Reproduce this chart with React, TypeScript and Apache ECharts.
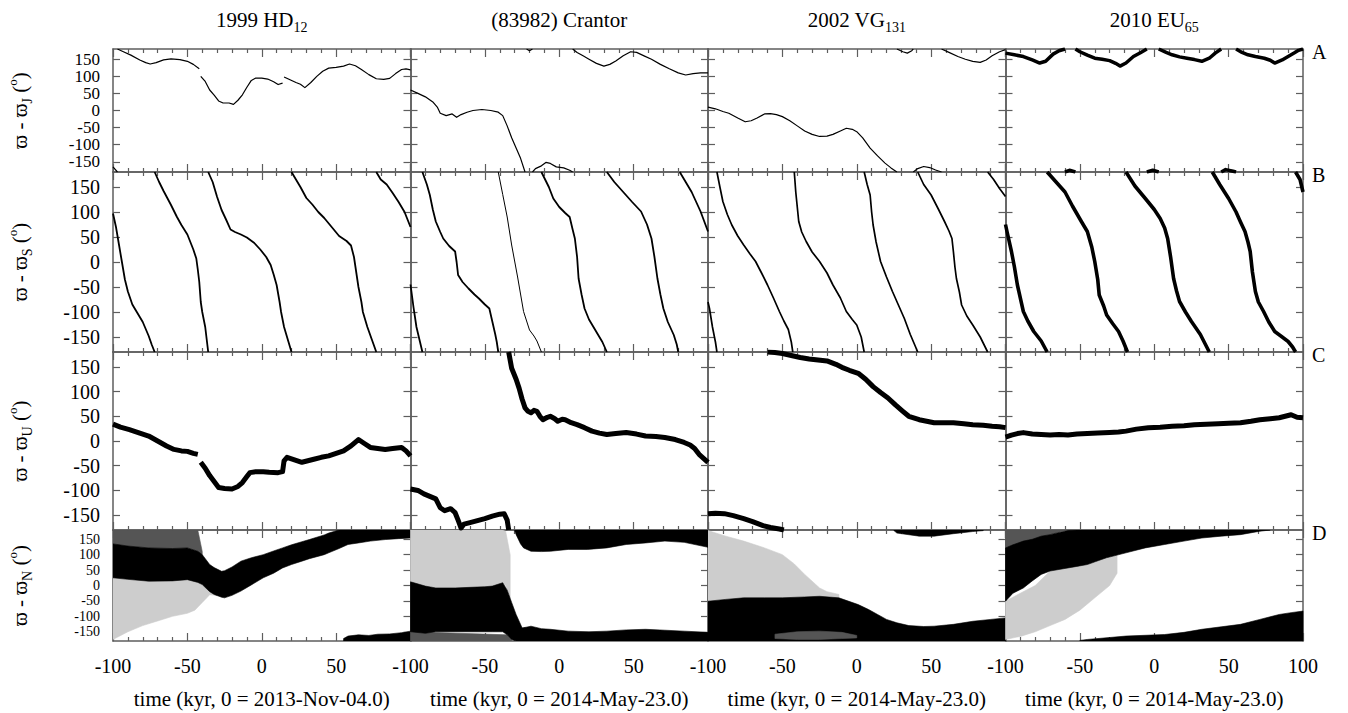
import React, { useEffect, useRef } from "react";
import * as echarts from "echarts";

// ---------- texts ----------
const OBJECT_TITLES = [
  "{n|1999 HD}{s|12}",
  "{n|(83982) Crantor}",
  "{n|2002 VG}{s|131}",
  "{n|2010 EU}{s|65}",
];
const X_TITLES = [
  "time (kyr, 0 = 2013-Nov-04.0)",
  "time (kyr, 0 = 2014-May-23.0)",
  "time (kyr, 0 = 2014-May-23.0)",
  "time (kyr, 0 = 2014-May-23.0)",
];
const Y_TITLES = [
  "{n|ϖ - ϖ}{s|J}{n| (}{p|o}{n|)}",
  "{n|ϖ - ϖ}{s|S}{n| (}{p|o}{n|)}",
  "{n|ϖ - ϖ}{s|U}{n| (}{p|o}{n|)}",
  "{n|ϖ - ϖ}{s|N}{n| (}{p|o}{n|)}",
];
const ROW_LABELS = ["A", "B", "C", "D"];
const Y_TICKS = [-150, -100, -50, 0, 50, 100, 150];
const Y_LABELS_ODD = [-150, -50, 50, 150];
const Y_LABELS_EVEN = [-100, 0, 100];

// ---------- row A: ϖ - ϖJ ----------
const A1 = [[-100,-165],[-97,-180],null,[-97,180],[-93,172],[-88,162],[-82,148],[-78,140],[-75,136],[-71,140],[-66,148],[-61,151],[-55,149],[-50,144],[-46,135],[-42,122],null,[-41,100],[-38,85],[-35,60],[-32,45],[-29,28],[-26,22],[-22,22],[-19,18],[-16,30],[-13,46],[-10,68],[-7,88],[-4,95],[0,95],[4,92],[8,84],[11,76],[14,80],null,[15,98],[19,90],[23,82],[26,77],[29,67],[33,82],[37,100],[41,115],[45,124],[50,126],[55,130],[59,136],[63,131],[67,120],[72,105],[77,93],[82,91],[86,94],[90,108],[94,120],[97,122],[100,119]];
const A2 = [[-100,60],[-95,50],[-90,40],[-85,25],[-82,10],[-80,-8],[-76,-15],[-72,-10],[-69,-20],[-66,-12],[-62,-5],[-58,0],[-52,3],[-46,0],[-41,-5],[-38,-15],[-35,-45],[-32,-80],[-29,-110],[-26,-140],[-23,-180],null,[-22,180],[-20,175],[-18,180],null,[-18,-180],[-16,-170],[-12,-162],[-9,-152],[-6,-155],[-2,-165],[3,-168],[7,-175],[9,-180],null,[9,180],[12,170],[16,160],[20,150],[25,138],[30,130],[34,135],[38,145],[43,160],[48,172],[52,170],[57,160],[62,150],[68,135],[74,122],[80,110],[85,104],[90,108],[95,110],[100,110]];
const A3 = [[-100,10],[-95,5],[-90,-3],[-86,-8],[-80,-22],[-75,-33],[-71,-30],[-67,-22],[-62,-10],[-58,-9],[-54,-12],[-50,-18],[-45,-30],[-40,-45],[-35,-60],[-30,-70],[-25,-76],[-20,-75],[-16,-70],[-11,-60],[-7,-52],[-3,-55],[0,-62],[4,-80],[9,-110],[14,-133],[19,-154],[23,-168],[27,-180],null,[27,180],[31,172],[34,168],[37,175],[38,180],null,[38,-180],[41,-170],[45,-164],[49,-167],[53,-174],[57,-180],null,[57,180],[62,170],[68,158],[73,150],[78,144],[83,141],[87,148],[91,160],[96,172],[100,178]];
const A4 = [[-100,168],[-94,163],[-88,158],[-82,148],[-77,139],[-73,144],[-68,165],[-64,175],[-60,180],null,[-60,-180],[-57,-175],[-53,-180],null,[-53,180],[-50,172],[-45,162],[-40,153],[-35,150],[-30,146],[-26,138],[-23,130],[-19,139],[-14,158],[-9,170],[-5,180],null,[-5,-180],[-1,-175],[3,-180],null,[3,180],[8,170],[12,163],[17,157],[22,153],[27,149],[32,144],[37,153],[41,168],[45,180],null,[45,-180],[48,-173],[53,-178],[55,-180],null,[55,180],[59,170],[63,163],[68,158],[74,153],[78,147],[81,139],[86,148],[90,158],[94,168],[97,176],[100,180]];

// ---------- row B: ϖ - ϖS ----------
const B1 = [[-100,97],[-98,70],[-96,35],[-94,0],[-92,-35],[-90,-59],[-87,-85],[-84,-100],[-80,-120],[-76,-148],[-74,-165],[-72,-180],null,[-72,180],[-69,160],[-66,142],[-61,114],[-57,90],[-54,74],[-50,55],[-46,25],[-44,7],[-43,-15],[-42,-40],[-41,-80],[-40,-100],[-38,-130],[-37,-155],[-36,-180],null,[-36,180],[-33,160],[-30,130],[-27,104],[-24,85],[-21,65],[-18,60],[-14,55],[-10,49],[-5,38],[-1,25],[3,10],[6,-6],[8,-25],[10,-46],[12,-80],[13,-100],[15,-130],[18,-160],[20,-180],null,[20,180],[23,165],[26,150],[30,128],[34,115],[38,100],[42,88],[47,70],[52,52],[57,42],[60,33],[62,10],[63,-10],[65,-50],[67,-80],[68,-100],[71,-130],[74,-155],[77,-180],null,[77,180],[80,165],[84,155],[88,138],[92,120],[96,100],[100,70]];
const B2 = [[-100,-45],[-98,-90],[-96,-130],[-94,-155],[-92,-180],null,[-92,180],[-89,155],[-87,134],[-85,105],[-83,81],[-80,60],[-78,47],[-74,32],[-70,21],[-69,0],[-68,-26],[-65,-40],[-61,-53],[-57,-65],[-54,-73],[-50,-85],[-47,-93],[-45,-119],[-43,-145],[-42,-160],[-41,-180],null,[-12,180],[-7,150],[-4,127],[0,110],[4,98],[7,90],[9,65],[10.5,47],[12,10],[13,-33],[15,-65],[17,-93],[20,-115],[25,-140],[29,-160],[32,-180],null,[32,180],[37,160],[43,140],[49,120],[55,101],[59,75],[62,47],[64,10],[66,-33],[68,-65],[70,-93],[73,-120],[77,-146],[79,-165],[80,-180],null,[81,180],[85,160],[89,140],[95,101],[100,61]];
const B2_FAST = [[-41,180],[-38,135],[-35,90],[-32,34],[-28,-30],[-24,-99],[-20,-136],[-17,-148],[-15,-158],[-12,-180]];
const B3 = [[-100,-80],[-99,-93],[-97,-130],[-95,-160],[-94,-180],null,[-94,180],[-92,150],[-90,121],[-87,95],[-84,74],[-80,52],[-76,34],[-72,17],[-68,1],[-64,-22],[-60,-46],[-56,-72],[-52,-99],[-49,-118],[-46,-135],[-44,-160],[-43,-180],null,[-42,180],[-41,140],[-39,81],[-37,60],[-34,41],[-30,20],[-25,1],[-20,-22],[-16,-46],[-11,-72],[-7,-99],[-3,-115],[0,-126],[3,-150],[5,-180],null,[5,180],[7,155],[9,134],[10,100],[11,74],[13,40],[16,1],[20,-30],[24,-59],[28,-86],[32,-113],[36,-145],[41,-180],null,[41,180],[45,155],[50,134],[55,105],[59,81],[62,62],[64,47],[65,20],[66,-10],[67,-33],[69,-60],[70.5,-86],[74,-108],[78,-126],[83,-150],[88,-180],null,[88,180],[92,165],[96,147],[100,131]];
const B4 = [[-100,75],[-99,61],[-96,21],[-94,-10],[-92,-46],[-88,-99],[-85,-118],[-81,-139],[-76,-158],[-72,-180],null,[-72,180],[-66,160],[-60,140],[-55,112],[-49,81],[-45,61],[-42,30],[-40,1],[-38,-35],[-37,-66],[-34,-88],[-32,-106],[-28,-123],[-24,-139],[-21,-158],[-18,-180],null,[-19,180],[-13,152],[-6,127],[0,105],[4,87],[7,68],[9,47],[11,10],[13,-33],[15,-58],[17,-79],[21,-100],[25,-119],[31,-145],[37,-180],null,[39,180],[44,155],[50,127],[55,100],[58,80],[61,61],[63,40],[64.5,21],[66,-20],[68,-59],[70,-80],[73.5,-99],[77,-120],[81,-139],[86,-150],[90,-159],[93,-170],[95,-180],null,[95,180],[98,165],[100,140]];

// ---------- row C: ϖ - ϖU ----------
const C1 = [[-100,34],[-95,28],[-89,23],[-82,16],[-76,10],[-70,0],[-64,-10],[-59,-17],[-54,-20],[-50,-21],[-46,-25],[-43,-27],null,[-41,-43],[-38,-55],[-35,-70],[-32,-82],[-29,-94],[-25,-96],[-20,-97],[-16,-92],[-13,-84],[-10,-72],[-8,-64],[-4,-62],[1,-62],[5,-63],[11,-64],[14,-62],[15,-40],[17,-33],[22,-38],[27,-43],[31,-40],[35,-37],[40,-33],[45,-30],[50,-25],[55,-20],[60,-10],[65,3],[69,-5],[73,-13],[78,-15],[83,-17],[88,-15],[94,-13],[97,-20],[100,-30]];
const C2 = [[-100,-97],[-95,-100],[-91,-107],[-87,-112],[-83,-117],[-80,-135],[-77,-141],[-73,-137],[-70,-145],[-68,-160],[-66,-176],[-64,-168],[-60,-165],[-55,-161],[-50,-157],[-45,-152],[-40,-148],[-37,-147],[-35,-160],[-34,-180],null,[-34,180],[-32,147],[-29,125],[-27,107],[-25,85],[-23,67],[-21,60],[-19,57],[-17,62],[-15,60],[-13,50],[-11,43],[-8,48],[-6,50],[-3,45],[-1,40],[2,44],[4,43],[8,37],[12,33],[17,27],[22,20],[27,16],[32,13],[38,15],[45,17],[52,14],[58,10],[65,9],[71,7],[78,3],[84,-3],[88,-8],[91,-15],[94,-27],[97,-35],[100,-43]];
const C3 = [[-100,-147],[-95,-146],[-89,-147],[-83,-151],[-76,-157],[-70,-163],[-63,-171],[-58,-175],[-52,-178],[-49,-180],null,[-60,180],[-55,179],[-50,177],[-44,173],[-38,169],[-32,166],[-26,164],[-20,162],[-14,155],[-10,149],[-5,143],[1,137],[6,125],[11,110],[16,98],[21,87],[26,73],[31,60],[35,50],[42,43],[47,40],[52,37],[58,37],[65,37],[72,35],[78,33],[85,32],[91,30],[96,29],[100,27]];
const C4 = [[-100,8],[-96,12],[-92,15],[-88,17],[-82,14],[-76,13],[-70,12],[-64,13],[-58,12],[-52,14],[-45,15],[-38,16],[-30,17],[-24,18],[-19,20],[-12,24],[-4,27],[4,28],[12,30],[20,31],[27,33],[35,34],[43,35],[50,36],[58,37],[65,40],[71,43],[78,45],[84,47],[88,50],[92,53],[96,48],[100,47]];

// ---------- row D: ϖ - ϖN (point clouds as [t, low, high] bands) ----------
const D1_TOP_SPARSE = [[-100,133,180],[-90,128,180],[-76,122,180],[-60,120,180],[-50,122,180],[-43,111,180],[-40,95,110]];
const D1_BOTTOM_SPARSE = [[-100,-175,25],[-90,-150,20],[-80,-130,16],[-70,-115,14],[-60,-100,15],[-50,-90,19],[-45,-80,12],[-40,-55,3],[-35,-30,-20],[-30,-32,-34]];
const D1_DENSE = [[-100,25,135],[-90,20,128],[-76,14,122],[-60,15,120],[-50,19,122],[-43,10,111],[-40,3,100],[-35,-20,68],[-32,-29,58],[-27,-38,46],[-25,-40,48],[-20,-32,60],[-14,-18,79],[-7,2,90],[1,25,100],[8,40,112],[14,57,122],[20,68,132],[27,79,142],[32,87,149],[42,100,164],[45,106,170],[52,120,180],[58,133,180],[65,138,180],[73,144,180],[83,149,180],[92,152,180],[100,154,180]];
const D1_LOW = [[55,-180,-172],[58,-180,-164],[65,-180,-160],[72,-180,-162],[78,-180,-158],[86,-180,-157],[94,-180,-153],[100,-180,-148]];

const D2_TOP_SPARSE = [[-100,10,180],[-83,-8,180],[-70,-8,180],[-57,-8,180],[-45,-2,180],[-38,9,180],[-36,0,175],[-33,-40,100]];
const D2_BOTTOM_MID = [[-100,-180,-150],[-35,-180,-160],[-32,-180,-175]];
const D2_DENSE = [[-100,-150,12],[-90,-155,-2],[-83,-150,-8],[-70,-150,-8],[-60,-150,-6],[-50,-150,-4],[-45,-150,-2],[-38,-150,9],[-35,-160,-15],[-32,-175,-55],[-29,-180,-94],[-25,-180,-137],[-22,-180,-138]];
const D2_LOW = [[-24,-180,-137],[-19,-180,-132],[-12,-180,-140],[-6,-180,-142],[6,-180,-148],[20,-180,-150],[32,-180,-148],[45,-180,-144],[58,-180,-142],[71,-180,-145],[84,-180,-148],[100,-180,-152]];
const D2_HIGH = [[-30,178,180],[-29,165,180],[-26,135,180],[-24,122,180],[-19,111,180],[-12,110,180],[-6,111,180],[6,117,180],[19,117,180],[32,122,180],[45,133,180],[58,138,180],[71,144,180],[84,140,180],[100,124,180]];

const D3_SPARSE = [[-100,-51,178],[-88,-45,160],[-76,-40,144],[-62,-40,122],[-50,-40,100],[-42,-38,70],[-35,-36,36],[-25,-35,-8],[-20,-36,-20],[-12,-40,-29]];
const D3_DENSE = [[-100,-180,-51],[-88,-180,-45],[-76,-180,-40],[-62,-180,-40],[-50,-180,-40],[-35,-180,-37],[-25,-180,-35],[-12,-180,-40],[1,-180,-62],[8,-180,-78],[14,-180,-94],[20,-180,-110],[27,-180,-121],[35,-180,-130],[45,-180,-133],[52,-180,-132],[65,-180,-126],[78,-180,-116],[90,-180,-110],[100,-180,-105]];
const D3_THIN = [[-55,-172,-158],[-40,-175,-150],[-25,-175,-148],[-10,-172,-152],[0,-170,-162]];
const D3_HIGH = [[25,178,180],[27,170,180],[42,160,180],[52,160,180],[65,168,180],[78,175,180],[85,178,180]];

const D4_TOP_SPARSE = [[-100,122,180],[-83,144,180],[-70,165,180],[-60,178,180]];
const D4_BOTTOM_SPARSE = [[-100,-175,-51],[-90,-165,-25],[-80,-150,0],[-70,-130,47],[-60,-110,55],[-50,-80,65],[-40,-40,75],[-30,0,92],[-25,40,98]];
const D4_DENSE = [[-100,-51,122],[-95,-25,132],[-88,-8,144],[-82,15,150],[-76,36,160],[-70,47,165],[-64,52,172],[-58,57,178],[-52,62,180],[-45,68,180],[-32,90,180],[-19,106,180],[-6,122,180],[7,133,180],[20,144,180],[32,154,180],[45,160,180],[58,165,180],[71,176,180],[78,180,180]];
const D4_LOW = [[-50,-180,-178],[-45,-180,-175],[-19,-180,-164],[7,-180,-159],[20,-180,-152],[32,-180,-142],[45,-180,-134],[58,-180,-126],[71,-180,-110],[84,-180,-94],[92,-180,-88],[100,-180,-83]];

// ---------- layout / styles ----------
const FONT = '"Liberation Serif", "DejaVu Serif", "Times New Roman", serif';
const AXIS_COLOR = "#5e5e5e";
const GRID_LEFTS = [113, 410.5, 708, 1005.5];
const GRID_WIDTH = 297.5;
const GRID_TOPS = [49, 172, 352, 530];
const GRID_HEIGHTS = [123, 180, 178, 111];
const Y_LABEL_SIZES = [17, 20, 20, 14];
const SHADE = { dense: "#000000", mid: "#555555", sparse: "#cdcdcd" };

const LINE_PANELS = [
  { row: 0, col: 0, data: A1, width: 1.2 },
  { row: 0, col: 1, data: A2, width: 1.2 },
  { row: 0, col: 2, data: A3, width: 1.2 },
  { row: 0, col: 3, data: A4, width: 3.5 },
  { row: 1, col: 0, data: B1, width: 1.8 },
  { row: 1, col: 1, data: B2, width: 1.8 },
  { row: 1, col: 1, data: B2_FAST, width: 1.0 },
  { row: 1, col: 2, data: B3, width: 1.7 },
  { row: 1, col: 3, data: B4, width: 3.6 },
  { row: 2, col: 0, data: C1, width: 5 },
  { row: 2, col: 1, data: C2, width: 5 },
  { row: 2, col: 2, data: C3, width: 5 },
  { row: 2, col: 3, data: C4, width: 5 },
];

const BAND_PANELS = [
  { col: 0, rows: D1_TOP_SPARSE, shade: "mid" },
  { col: 0, rows: D1_BOTTOM_SPARSE, shade: "sparse" },
  { col: 0, rows: D1_DENSE, shade: "dense" },
  { col: 0, rows: D1_LOW, shade: "dense" },
  { col: 1, rows: D2_TOP_SPARSE, shade: "sparse" },
  { col: 1, rows: D2_BOTTOM_MID, shade: "mid" },
  { col: 1, rows: D2_DENSE, shade: "dense" },
  { col: 1, rows: D2_LOW, shade: "dense" },
  { col: 1, rows: D2_HIGH, shade: "dense" },
  { col: 2, rows: D3_SPARSE, shade: "sparse" },
  { col: 2, rows: D3_DENSE, shade: "dense" },
  { col: 2, rows: D3_THIN, shade: "mid" },
  { col: 2, rows: D3_HIGH, shade: "dense" },
  { col: 3, rows: D4_TOP_SPARSE, shade: "mid" },
  { col: 3, rows: D4_BOTTOM_SPARSE, shade: "sparse" },
  { col: 3, rows: D4_DENSE, shade: "dense" },
  { col: 3, rows: D4_LOW, shade: "dense" },
];

const RICH = {
  n: { fontSize: 21, lineHeight: 28, fontFamily: FONT, color: "#000" },
  s: { fontSize: 14, lineHeight: 14, verticalAlign: "bottom", fontFamily: FONT, color: "#000" },
  p: { fontSize: 13, lineHeight: 13, verticalAlign: "top", fontFamily: FONT, color: "#000" },
};

function toLine(arr: any[]) {
  let lastT = 0;
  return arr.map((p) => {
    if (p) {
      lastT = p[0];
      return p;
    }
    return [lastT, null];
  });
}

function buildOption() {
  const grid: any[] = [];
  const xAxis: any[] = [];
  const yAxis: any[] = [];
  const series: any[] = [];
  const xIndex: number[] = [];
  const yIndex: number[] = [];
  const line = { show: true, onZero: false, lineStyle: { color: AXIS_COLOR, width: 1.5 } };

  for (let row = 0; row < 4; row++) {
    for (let col = 0; col < 4; col++) {
      const g = row * 4 + col;
      grid.push({
        left: GRID_LEFTS[col], top: GRID_TOPS[row], width: GRID_WIDTH, height: GRID_HEIGHTS[row],
        containLabel: false, outerBoundsMode: "none",
      });
      xIndex[g] = xAxis.length;
      for (const pos of ["bottom", "top"]) {
        const labels = pos === "bottom" && row === 3;
        const title = pos === "top" && row === 0;
        xAxis.push({
          type: "value", gridIndex: g, position: pos, min: -100, max: 100, interval: 50,
          axisLine: line,
          axisTick: { show: true, inside: true, length: 8, lineStyle: { color: AXIS_COLOR, width: 1.2 } },
          minorTick: { show: true, splitNumber: 5, length: 4, lineStyle: { color: AXIS_COLOR, width: 1.2 } },
          splitLine: { show: false }, minorSplitLine: { show: false },
          axisLabel: {
            show: labels, margin: 15, fontSize: 20, color: "#000", fontFamily: FONT,
            showMinLabel: true, showMaxLabel: col === 3, hideOverlap: false,
          },
          name: labels ? X_TITLES[col] : title ? OBJECT_TITLES[col] : "",
          nameLocation: "middle", nameGap: labels ? 47 : 15, nameMoveOverlap: false,
          nameTextStyle: labels
            ? { fontSize: 21, color: "#000", fontFamily: FONT }
            : { rich: RICH },
        });
      }
      yIndex[g] = yAxis.length;
      for (const pos of ["left", "right"]) {
        const named = pos === "left" && col === 0;
        yAxis.push({
          type: "value", gridIndex: g, position: pos, min: -180, max: 180,
          axisLine: line,
          axisTick: { show: true, inside: true, length: 7, customValues: Y_TICKS, lineStyle: { color: AXIS_COLOR, width: 1.2 } },
          splitLine: { show: false },
          axisLabel: { show: false },
          name: named ? Y_TITLES[row] : "",
          nameLocation: "middle", nameRotate: 90, nameGap: 79, nameMoveOverlap: false,
          nameTextStyle: { rich: RICH },
        });
      }
      if (col === 0) {
        // tick labels, split over two label-only axes so that none is dropped
        for (const values of [Y_LABELS_ODD, Y_LABELS_EVEN]) {
          yAxis.push({
            type: "value", gridIndex: g, position: "left", min: -180, max: 180,
            axisLine: { show: false }, axisTick: { show: false }, splitLine: { show: false },
            axisLabel: {
              show: true, customValues: values, margin: 13, fontSize: Y_LABEL_SIZES[row],
              color: "#000", fontFamily: FONT, hideOverlap: false, showMinLabel: true, showMaxLabel: true,
            },
          });
        }
      }
    }
  }

  for (const p of LINE_PANELS) {
    const g = p.row * 4 + p.col;
    series.push({
      type: "line", xAxisIndex: xIndex[g], yAxisIndex: yIndex[g], data: toLine(p.data),
      symbol: "none", showSymbol: false, connectNulls: false, clip: true, silent: true,
      lineStyle: { color: "#000", width: p.width, join: "round" },
    });
  }

  for (const b of BAND_PANELS) {
    const g = 3 * 4 + b.col;
    const rows = b.rows;
    const color = (SHADE as any)[b.shade];
    series.push({
      type: "custom", xAxisIndex: xIndex[g], yAxisIndex: yIndex[g], data: rows,
      encode: { x: 0, y: [1, 2] }, clip: true, silent: true,
      renderItem: (params: any, api: any) => {
        if (params.dataIndex !== 0) return null;
        const upper = rows.map((r) => api.coord([r[0], r[2]]));
        const lower = rows.map((r) => api.coord([r[0], r[1]])).reverse();
        return {
          type: "polygon",
          shape: { points: upper.concat(lower) },
          style: { fill: color, stroke: color, lineWidth: 0.6 },
        };
      },
    });
  }

  const graphic = ROW_LABELS.map((t, i) => ({
    type: "text", left: 1312, top: GRID_TOPS[i] - 7,
    style: { text: t, fontSize: 20, fontFamily: FONT, fill: "#000" },
  }));

  return {
    animation: false,
    backgroundColor: "#fff",
    textStyle: { fontFamily: FONT },
    grid, xAxis, yAxis, series, graphic,
  };
}

export default function App() {
  const ref = useRef<HTMLDivElement>(null);
  useEffect(() => {
    if (!ref.current) return;
    const chart = echarts.init(ref.current, null, { renderer: "svg" });
    chart.setOption(buildOption() as any);
    return () => chart.dispose();
  }, []);
  return (
    <div
      ref={ref}
      style={{ position: "fixed", left: 0, top: 0, width: 1348, height: 713, background: "#fff" }}
    />
  );
}
